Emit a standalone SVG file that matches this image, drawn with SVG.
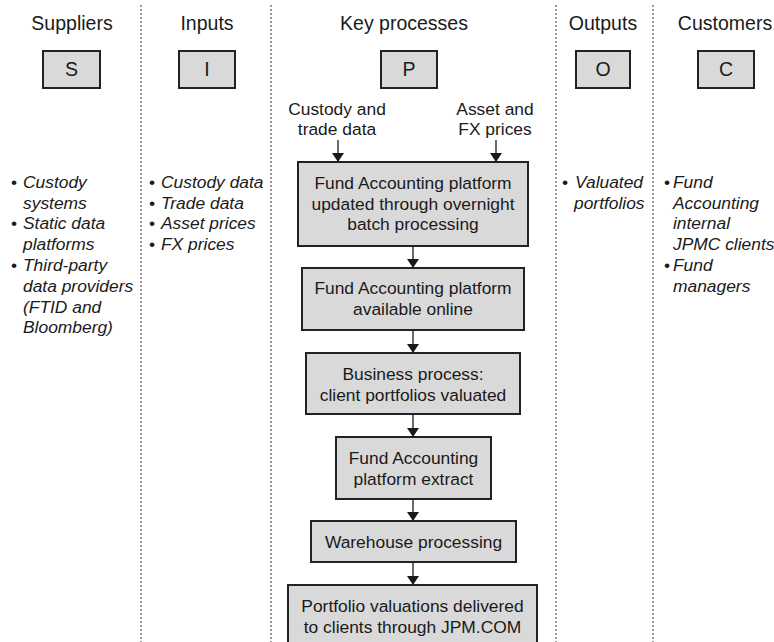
<svg xmlns="http://www.w3.org/2000/svg" width="774" height="642" viewBox="0 0 774 642">
<style>
  .title { font-family: "Liberation Sans", Arial, sans-serif; font-size: 19.5px; fill: #1a1a1a; text-anchor: middle; }
  .letter { font-family: "Liberation Sans", Arial, sans-serif; font-size: 19.5px; fill: #1a1a1a; text-anchor: middle; }
  .lbl { font-family: "Liberation Sans", Arial, sans-serif; font-size: 17.4px; fill: #1a1a1a; text-anchor: middle; }
  .it { font-family: "Liberation Sans", Arial, sans-serif; font-size: 17.4px; fill: #1a1a1a; font-style: italic; }
  .bul { font-family: "Liberation Sans", Arial, sans-serif; font-size: 17.4px; fill: #1a1a1a; }
  .box { fill: #d9d9d9; stroke: #222; stroke-width: 2; }
  .div { stroke: #333; stroke-width: 1; stroke-dasharray: 2 2; fill: none; }
  .conn { stroke: #1a1a1a; stroke-width: 1.3; fill: none; marker-end: url(#ah); }
</style>
<defs>
  <marker id="ah" viewBox="0 0 9 12" refX="9" refY="6" markerWidth="9" markerHeight="12" markerUnits="userSpaceOnUse" orient="auto">
    <path d="M0,0 L9,6 L0,12 z" fill="#1a1a1a"/>
  </marker>
</defs>
<rect width="774" height="642" fill="#fff"/>

<g id="dividers">
  <line class="div" x1="141" y1="5" x2="141" y2="642"/>
  <line class="div" x1="271" y1="5" x2="271" y2="642"/>
  <line class="div" x1="556" y1="5" x2="556" y2="642"/>
  <line class="div" x1="653" y1="5" x2="653" y2="642"/>
</g>

<g id="headers">
  <text class="title" x="72" y="30">Suppliers</text>
  <text class="title" x="207" y="30">Inputs</text>
  <text class="title" x="404" y="30">Key processes</text>
  <text class="title" x="603" y="30">Outputs</text>
  <text class="title" x="725" y="30">Customers</text>
</g>

<g id="node-S"><rect class="box" x="43" y="51" width="57" height="37"/><text class="letter" x="71.5" y="76">S</text></g>
<g id="node-I"><rect class="box" x="179" y="51" width="56" height="37"/><text class="letter" x="207" y="76">I</text></g>
<g id="node-P"><rect class="box" x="381" y="51" width="56" height="37"/><text class="letter" x="409" y="76">P</text></g>
<g id="node-O"><rect class="box" x="576" y="51" width="54" height="37"/><text class="letter" x="603" y="76">O</text></g>
<g id="node-C"><rect class="box" x="698" y="51" width="56" height="37"/><text class="letter" x="726" y="76">C</text></g>

<g id="suppliers-list">
  <text class="bul" x="11" y="188">•</text>
  <text class="it" x="23" y="188">Custody</text>
  <text class="it" x="23" y="208.5">systems</text>
  <text class="bul" x="11" y="229">•</text>
  <text class="it" x="23" y="229">Static data</text>
  <text class="it" x="23" y="250">platforms</text>
  <text class="bul" x="11" y="271">•</text>
  <text class="it" x="23" y="271">Third-party</text>
  <text class="it" x="23" y="292">data providers</text>
  <text class="it" x="23" y="312.5">(FTID and</text>
  <text class="it" x="23" y="333">Bloomberg)</text>
</g>

<g id="inputs-list">
  <text class="bul" x="149" y="188">•</text>
  <text class="it" x="161" y="188">Custody data</text>
  <text class="bul" x="149" y="208.5">•</text>
  <text class="it" x="161" y="208.5">Trade data</text>
  <text class="bul" x="149" y="229">•</text>
  <text class="it" x="161" y="229">Asset prices</text>
  <text class="bul" x="149" y="250">•</text>
  <text class="it" x="161" y="250">FX prices</text>
</g>

<g id="outputs-list">
  <text class="bul" x="562" y="188">•</text>
  <text class="it" x="575" y="188">Valuated</text>
  <text class="it" x="574" y="208.5">portfolios</text>
</g>

<g id="customers-list">
  <text class="bul" x="664" y="188">•</text>
  <text class="it" x="673" y="188">Fund</text>
  <text class="it" x="673" y="208.5">Accounting</text>
  <text class="it" x="673" y="229">internal</text>
  <text class="it" x="673" y="250">JPMC clients</text>
  <text class="bul" x="664" y="271">•</text>
  <text class="it" x="673" y="271">Fund</text>
  <text class="it" x="673" y="292">managers</text>
</g>

<g id="input-custody">
  <text class="lbl" x="337" y="115">Custody and</text>
  <text class="lbl" x="337" y="135">trade data</text>
</g>
<g id="input-asset">
  <text class="lbl" x="495" y="115">Asset and</text>
  <text class="lbl" x="495" y="135">FX prices</text>
</g>

<g id="box1">
  <rect class="box" x="298" y="162" width="230" height="84"/>
  <text class="lbl" x="413" y="189">Fund Accounting platform</text>
  <text class="lbl" x="413" y="209.5">updated through overnight</text>
  <text class="lbl" x="413" y="230">batch processing</text>
</g>
<g id="box2">
  <rect class="box" x="302" y="268" width="222" height="62"/>
  <text class="lbl" x="413" y="294">Fund Accounting platform</text>
  <text class="lbl" x="413" y="315">available online</text>
</g>
<g id="box3">
  <rect class="box" x="306" y="353" width="214" height="61"/>
  <text class="lbl" x="413" y="380">Business process:</text>
  <text class="lbl" x="413" y="401">client portfolios valuated</text>
</g>
<g id="box4">
  <rect class="box" x="336" y="437" width="155" height="62"/>
  <text class="lbl" x="413.5" y="464">Fund Accounting</text>
  <text class="lbl" x="413.5" y="485">platform extract</text>
</g>
<g id="box5">
  <rect class="box" x="311" y="521" width="205" height="41"/>
  <text class="lbl" x="413.5" y="548">Warehouse processing</text>
</g>
<g id="box6">
  <rect class="box" x="288" y="585" width="249" height="70"/>
  <text class="lbl" x="412.5" y="612">Portfolio valuations delivered</text>
  <text class="lbl" x="412.5" y="633">to clients through JPM.COM</text>
</g>

<g id="connectors">
  <line class="conn" x1="338" y1="140" x2="338" y2="162"/>
  <line class="conn" x1="496" y1="140" x2="496" y2="162"/>
  <line class="conn" x1="413" y1="246" x2="413" y2="268"/>
  <line class="conn" x1="413" y1="330" x2="413" y2="353"/>
  <line class="conn" x1="413" y1="414" x2="413" y2="437"/>
  <line class="conn" x1="413" y1="499" x2="413" y2="521"/>
  <line class="conn" x1="413" y1="562" x2="413" y2="585"/>
</g>
</svg>
